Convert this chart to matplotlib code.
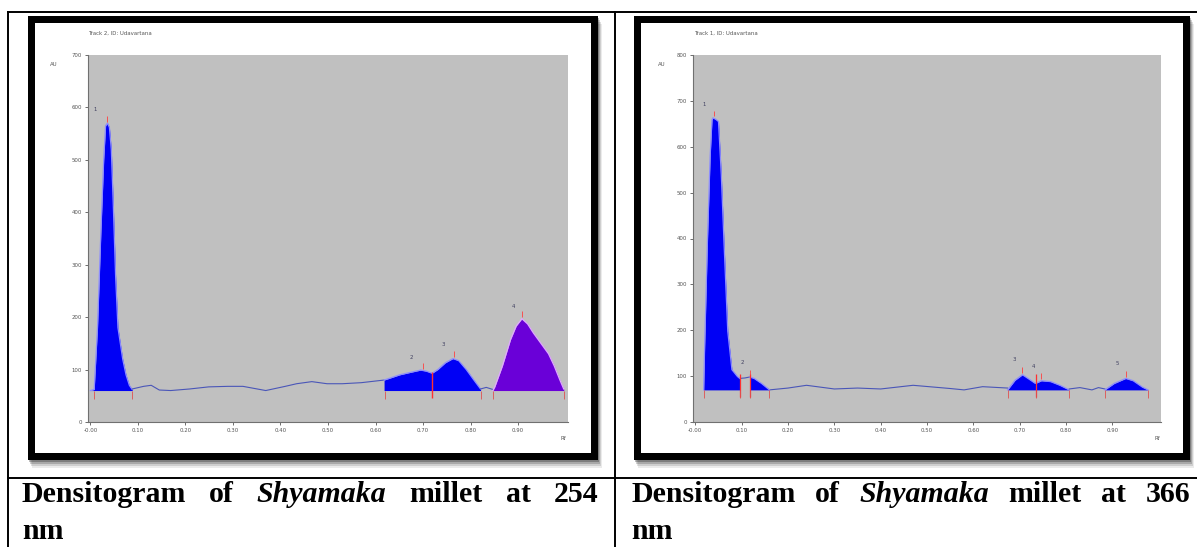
import matplotlib
matplotlib.use("Agg")
import matplotlib.pyplot as plt
from matplotlib.patches import Rectangle

W, H = 1197, 547

# ---- 254 nm track (left) ----
l_title = "Track 2, ID: Udavartana"
l_ymax = 700
l_yticks = [0, 100, 200, 300, 400, 500, 600, 700]
l_base = 60
l_p1_rf = [0.000, 0.008, 0.015, 0.022, 0.028, 0.032, 0.036, 0.040, 0.044, 0.048,
           0.053, 0.058, 0.063, 0.068, 0.075, 0.082, 0.088]
l_p1_au = [60, 62, 180, 360, 500, 565, 570, 562, 520, 420, 280, 180, 150, 120, 90, 70, 62]
l_noise_rf = [0.088, 0.112, 0.128, 0.145, 0.169, 0.209, 0.249, 0.289, 0.321, 0.369,
              0.41, 0.434, 0.466, 0.498, 0.53, 0.57, 0.618]
l_noise_au = [63, 68, 70, 61, 60, 63, 67, 68, 68, 60, 68, 73, 77, 73, 73, 75, 80]
l_p23_rf = [0.618, 0.651, 0.675, 0.695, 0.707, 0.719, 0.731, 0.747, 0.763, 0.775,
            0.791, 0.807, 0.821]
l_p23_au = [80, 90, 95, 99, 97, 93, 100, 113, 121, 117, 100, 80, 63]
l_gap_rf = [0.821, 0.833, 0.847]
l_gap_au = [63, 66, 62]
l_p4_rf = [0.847, 0.851, 0.867, 0.884, 0.896, 0.908, 0.920, 0.932, 0.948, 0.964,
           0.976, 0.988, 0.996]
l_p4_au = [60, 67, 107, 157, 183, 197, 187, 170, 150, 130, 107, 80, 63]
l_peak_names = ["1", "2", "3", "4"]
l_peak_rf = [0.010, 0.675, 0.743, 0.890]
l_peak_au = [597, 123, 147, 220]
l_apex_rf = [0.036, 0.700, 0.765, 0.908]
l_apex_au = [570, 99, 121, 197]
l_bound_rf = [0.008, 0.088, 0.620, 0.821, 0.847, 0.996]

# ---- 366 nm track (right) ----
r_title = "Track 1, ID: Udavartana"
r_ymax = 800
r_yticks = [0, 100, 200, 300, 400, 500, 600, 700, 800]
r_base = 70
r_p1_rf = [0.018, 0.020, 0.026, 0.032, 0.036, 0.038, 0.044, 0.050, 0.056, 0.062,
           0.070, 0.079, 0.091, 0.096]
r_p1_au = [70, 160, 389, 579, 659, 663, 660, 655, 540, 389, 198, 114, 99, 95]
r_p2_rf = [0.117, 0.127, 0.143, 0.160]
r_p2_au = [98, 95, 84, 70]
r_noise_rf = [0.096, 0.107, 0.117, 0.160, 0.20, 0.24, 0.30, 0.35, 0.40, 0.47,
              0.55, 0.58, 0.62, 0.674]
r_noise_au = [95, 96, 98, 70, 74, 80, 72, 74, 72, 80, 73, 70, 77, 74]
r_p34_rf = [0.674, 0.690, 0.706, 0.718, 0.734, 0.747, 0.767, 0.787, 0.807]
r_p34_au = [70, 91, 103, 95, 84, 90, 88, 80, 70]
r_gap_rf = [0.807, 0.83, 0.856, 0.870, 0.884]
r_gap_au = [72, 75, 70, 75, 72]
r_p5_rf = [0.884, 0.904, 0.929, 0.945, 0.965, 0.977]
r_p5_au = [70, 84, 95, 90, 76, 70]
r_peak_names = ["1", "2", "3", "4", "5"]
r_peak_rf = [0.020, 0.101, 0.688, 0.729, 0.911]
r_peak_au = [693, 130, 137, 122, 128]
r_apex_rf = [0.040, 0.117, 0.706, 0.747, 0.929]
r_apex_au = [663, 98, 103, 90, 95]
r_bound_rf = [0.018, 0.096, 0.117, 0.160, 0.674, 0.736, 0.807, 0.884, 0.977]

x_ticks = [0.0, 0.1, 0.2, 0.3, 0.4, 0.5, 0.6, 0.7, 0.8, 0.9]
x_ticklabels = ["-0.00", "0.10", "0.20", "0.30", "0.40", "0.50", "0.60", "0.70", "0.80", "0.90"]

captions = [
    [("Densitogram", "normal"), ("of", "normal"), ("Shyamaka", "italic"),
     ("millet", "normal"), ("at", "normal"), ("254", "normal")],
    [("Densitogram", "normal"), ("of", "normal"), ("Shyamaka", "italic"),
     ("millet", "normal"), ("at", "normal"), ("366", "normal")],
]

BLUE = "#0000f5"
PURPLE = "#6a00d8"


def px_axes(fig, x0, y0, x1, y1):
    return fig.add_axes([x0 / W, 1 - y1 / H, (x1 - x0) / W, (y1 - y0) / H])


def style_track(ax, ymax, yticks):
    ax.set_facecolor("#c0c0c0")
    ax.set_xlim(-0.005, 1.005)
    ax.set_ylim(0, ymax)
    for s in ["top", "right"]:
        ax.spines[s].set_visible(False)
    for s in ["left", "bottom"]:
        ax.spines[s].set_color("#707070")
        ax.spines[s].set_linewidth(0.8)
    ax.set_yticks(yticks)
    ax.set_yticklabels([str(v) for v in yticks])
    ax.set_xticks(x_ticks)
    ax.set_xticklabels(x_ticklabels)
    ax.tick_params(labelsize=3.9, colors="#555555", length=2.5, width=0.6, pad=2)


def peak(ax, rf, au, base, color, edge):
    ax.fill_between(rf, base, au, color=color, lw=0, zorder=2)
    ax.plot(rf, au, color=edge, lw=0.9, zorder=3)


def marks(ax, names, prf, pau, arf, aau, brf, base, ymax):
    d = ymax / 70
    for n, x, y in zip(names, prf, pau):
        ax.text(x, y, n, fontsize=3.9, color="#404060", ha="center", va="center", zorder=5)
    ax.vlines(arf, [a + d * 0.3 for a in aau], [a + d * 1.4 for a in aau],
              color="#ff4040", lw=0.6, zorder=4)
    ax.vlines(brf, base - d * 1.6, base, color="#e05050", lw=0.6, zorder=4)


fig = plt.figure(figsize=(W / 100, H / 100), dpi=100)

ov = fig.add_axes([0, 0, 1, 1], zorder=0)
ov.set_xlim(0, W)
ov.set_ylim(H, 0)
ov.axis("off")

# table lines
ov.plot([8, W], [12, 12], color="black", lw=1.4)
ov.plot([8, 8], [12, H], color="black", lw=1.4)
ov.plot([615, 615], [12, H], color="black", lw=1.4)
ov.plot([8, W], [478, 478], color="black", lw=1.4)

# screenshot frames with shadow
for x0, x1 in [(28, 598), (634, 1190)]:
    for k, a in [(8, 0.08), (6, 0.12), (4, 0.18), (2, 0.25)]:
        ov.add_patch(Rectangle((x0 + k / 2, 16 + k), x1 - x0, 444, color="black", alpha=a, lw=0))
    ov.add_patch(Rectangle((x0, 16), x1 - x0, 444, color="black", lw=0))
    ov.add_patch(Rectangle((x0 + 7, 23), x1 - x0 - 14, 430, color="white", lw=0))

# small texts of the screenshots
ov.text(88, 33, l_title, fontsize=3.9, color="#555555", va="center")
ov.text(694, 33, r_title, fontsize=3.9, color="#555555", va="center")
ov.text(50, 64, "AU", fontsize=3.9, color="#555555", va="center")
ov.text(658, 64, "AU", fontsize=3.9, color="#555555", va="center")
ov.text(563, 438, "Rf", fontsize=3.9, color="#555555", va="center", ha="center")
ov.text(1157, 438, "Rf", fontsize=3.9, color="#555555", va="center", ha="center")

# left track
axl = px_axes(fig, 88, 55, 568, 422)
axl.set_zorder(2)
style_track(axl, l_ymax, l_yticks)
peak(axl, l_p1_rf, l_p1_au, l_base, BLUE, "#8c8cff")
axl.plot(l_noise_rf, l_noise_au, color="#4a56b8", lw=0.8, zorder=3)
peak(axl, l_p23_rf, l_p23_au, l_base, BLUE, "#8c8cff")
axl.plot(l_gap_rf, l_gap_au, color="#4a56b8", lw=0.8, zorder=3)
peak(axl, l_p4_rf, l_p4_au, l_base, PURPLE, "#e0a8ff")
axl.vlines([0.719], 45, 95, color="#ff3030", lw=1.0, zorder=4)
marks(axl, l_peak_names, l_peak_rf, l_peak_au, l_apex_rf, l_apex_au, l_bound_rf, l_base, l_ymax)

# right track
axr = px_axes(fig, 693, 55, 1161, 422)
axr.set_zorder(2)
style_track(axr, r_ymax, r_yticks)
axr.plot(r_noise_rf, r_noise_au, color="#4a56b8", lw=0.8, zorder=1)
peak(axr, r_p1_rf, r_p1_au, r_base, BLUE, "#8c8cff")
peak(axr, r_p2_rf, r_p2_au, r_base, BLUE, "#8c8cff")
peak(axr, r_p34_rf, r_p34_au, r_base, BLUE, "#8c8cff")
axr.plot(r_gap_rf, r_gap_au, color="#4a56b8", lw=0.8, zorder=3)
peak(axr, r_p5_rf, r_p5_au, r_base, BLUE, "#8c8cff")
axr.vlines([0.096, 0.117, 0.736], 55, 105, color="#ff3030", lw=0.9, zorder=4)
marks(axr, r_peak_names, r_peak_rf, r_peak_au, r_apex_rf, r_apex_au, r_bound_rf, r_base, r_ymax)

# captions, justified over the cell width
renderer = fig.canvas.get_renderer()
for words, (x0, x1) in zip(captions, [(22, 598), (631, 1190)]):
    texts = []
    for w, st in words:
        t = ov.text(0, 502, w, fontsize=21.5, fontweight="bold", style=st,
                    family="Liberation Serif", va="baseline", ha="left")
        texts.append(t)
    widths = [t.get_window_extent(renderer).width for t in texts]
    gap = (x1 - x0 - sum(widths)) / (len(texts) - 1)
    x = x0
    for t, w in zip(texts, widths):
        t.set_x(x)
        x += w + gap
    ov.text(x0, 539, "nm", fontsize=21.5, fontweight="bold",
            family="Liberation Serif", va="baseline", ha="left")

fig.savefig("out.png", dpi=100)
